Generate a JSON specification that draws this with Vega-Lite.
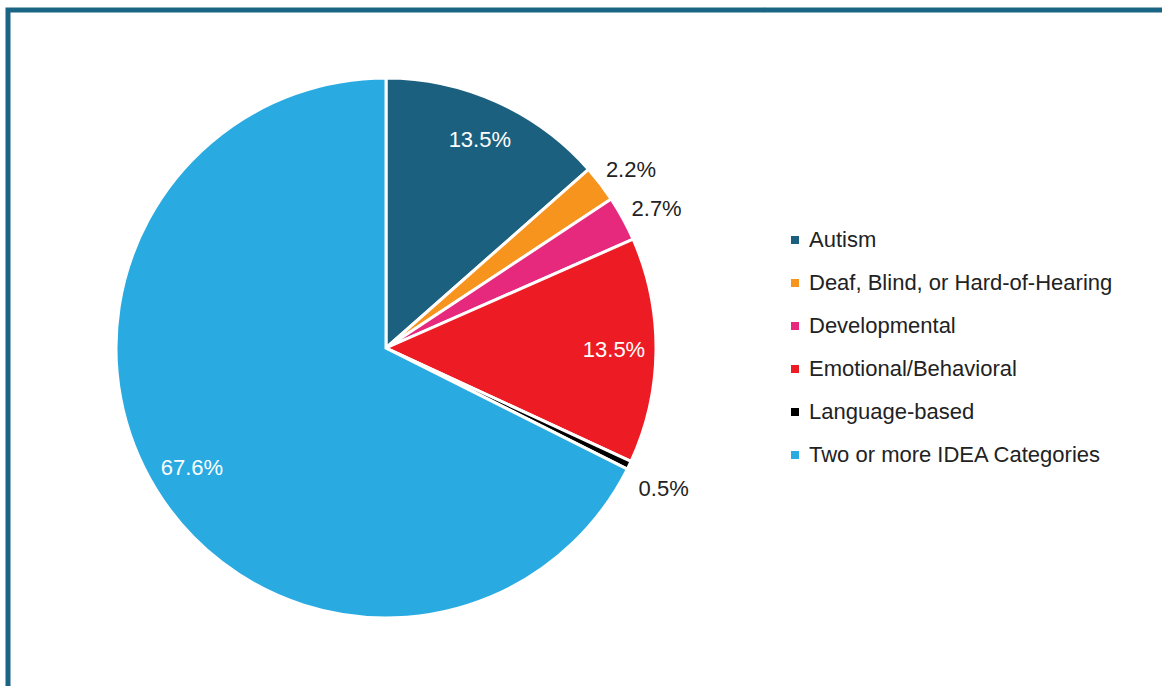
{
  "$schema": "https://vega.github.io/schema/vega-lite/v6.json",
  "padding": {"left": 4, "top": 6, "right": 0, "bottom": 0},
  "background": "white",
  "bounds": "flush",
  "spacing": 0,
  "config": {"font": "Liberation Sans"},
  "hconcat": [
    {
      "width": 756,
      "height": 676,
      "view": {"stroke": "#1b6584", "strokeWidth": 5, "strokeDash": [754, 1434, 676], "strokeCap": "square"},
      "data": {
        "values": [
          {"category": "Autism", "share": 0.135},
          {"category": "Deaf, Blind, or Hard-of-Hearing", "share": 0.022},
          {"category": "Developmental", "share": 0.027},
          {"category": "Emotional/Behavioral", "share": 0.135},
          {"category": "Language-based", "share": 0.005},
          {"category": "Two or more IDEA Categories", "share": 0.676}
        ]
      },
      "encoding": {
        "theta": {"field": "share", "type": "quantitative", "stack": true},
        "order": {"field": "category", "type": "nominal", "sort": "ascending"}
      },
      "layer": [
        {
          "mark": {"type": "arc", "outerRadius": 270, "stroke": "white", "strokeWidth": 3},
          "encoding": {
            "color": {
              "field": "category",
              "type": "nominal",
              "scale": {
                "domain": ["Autism", "Deaf, Blind, or Hard-of-Hearing", "Developmental", "Emotional/Behavioral", "Language-based", "Two or more IDEA Categories"],
                "range": ["#1b617f", "#f7941d", "#e7297e", "#ed1c24", "#000000", "#29abe2"]
              },
              "legend": {
                "orient": "none",
                "legendX": 776,
                "legendY": 219,
                "title": null,
                "padding": 0,
                "symbolType": "square",
                "symbolSize": 64,
                "symbolStrokeWidth": 0,
                "labelFontSize": 22,
                "labelColor": "#222222",
                "labelFont": "Liberation Sans",
                "labelLimit": 500,
                "labelOffset": 3,
                "rowPadding": 21
              }
            }
          }
        },
        {
          "mark": {"type": "text", "radius": 228, "fontSize": 22, "color": "white", "align": "center", "baseline": "middle"},
          "encoding": {
            "text": {"condition": {"test": "datum.share < 0.05", "value": ""}, "field": "share", "type": "quantitative", "format": ".1%"}
          }
        },
        {
          "mark": {"type": "text", "radius": 306, "dx": 2, "dy": 8, "fontSize": 22, "color": "#222222", "align": "center", "baseline": "middle"},
          "encoding": {
            "text": {"condition": {"test": "datum.share >= 0.05", "value": ""}, "field": "share", "type": "quantitative", "format": ".1%"}
          }
        }
      ]
    },
    {
      "width": 420,
      "height": 676,
      "view": {"stroke": "#1b6584", "strokeWidth": 5, "strokeDash": [420, 5000]},
      "data": {"values": []},
      "mark": "text",
      "encoding": {}
    }
  ]
}
